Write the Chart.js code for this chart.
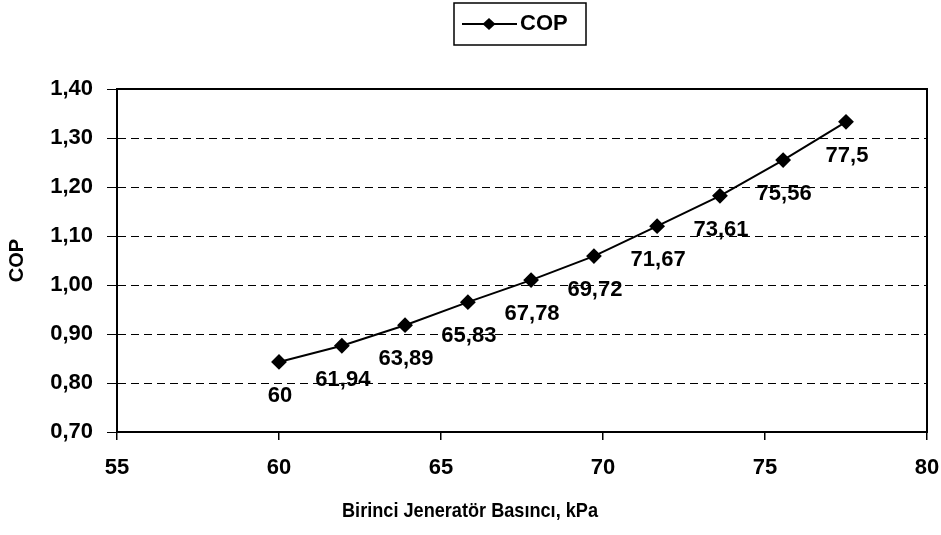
<!DOCTYPE html>
<html>
<head>
<meta charset="utf-8">
<script src="https://cdn.jsdelivr.net/npm/chart.js@4.4.1/dist/chart.umd.min.js"></script>
<style>
html,body{margin:0;padding:0;background:#fff;}
#wrap{position:relative;width:941px;height:535px;}
</style>
</head>
<body>
<div id="wrap"><canvas id="c" width="941" height="535"></canvas></div>
<script>
const pressures = [60, 61.94, 63.89, 65.83, 67.78, 69.72, 71.67, 73.61, 75.56, 77.5];
const copValues = [0.843, 0.876, 0.918, 0.965, 1.010, 1.059, 1.120, 1.182, 1.255, 1.333];
const seriesName = 'COP';
const xTitle = 'Birinci Jeneratör Basıncı, kPa';
const yTitle = 'COP';
const xMin = 55, xMax = 80, xStep = 5;
const yMin = 0.70, yMax = 1.40, yStep = 0.10;

const FONT = '"Liberation Sans", Arial, sans-serif';
const fmt = v => String(v).replace('.', ',');

const points = pressures.map((x, i) => ({x: x, y: copValues[i]}));

const framePlugin = {
  id: 'frame',
  afterDraw(chart) {
    const {ctx, chartArea: a} = chart;
    ctx.save();
    ctx.strokeStyle = '#000';
    ctx.lineWidth = 2;
    ctx.strokeRect(a.left, a.top, a.right - a.left, a.bottom - a.top);
    ctx.restore();
  }
};

const labelPlugin = {
  id: 'ptLabels',
  afterDatasetsDraw(chart) {
    const {ctx} = chart;
    const meta = chart.getDatasetMeta(0);
    ctx.save();
    ctx.font = 'bold 22px ' + FONT;
    ctx.fillStyle = '#000';
    ctx.textAlign = 'center';
    ctx.textBaseline = 'middle';
    meta.data.forEach((el, i) => {
      ctx.fillText(fmt(pressures[i]), el.x + 1, el.y + 34);
    });
    ctx.restore();
  }
};

const xTitlePlugin = {
  id: 'xTitle',
  afterDraw(chart) {
    const {ctx} = chart;
    ctx.save();
    ctx.font = 'bold 21px ' + FONT;
    ctx.fillStyle = '#000';
    ctx.textAlign = 'center';
    ctx.textBaseline = 'middle';
    const w = ctx.measureText(xTitle).width;
    const sx = Math.min(1, 256 / w);
    ctx.translate(470, 511);
    ctx.scale(sx, 1);
    ctx.fillText(xTitle, 0, 0);
    ctx.restore();
  }
};

const legendPlugin = {
  id: 'boxLegend',
  afterDraw(chart) {
    const {ctx} = chart;
    const ds = chart.data.datasets[0];
    ctx.save();
    ctx.strokeStyle = '#000';
    ctx.lineWidth = 1.5;
    ctx.strokeRect(454, 3, 132, 42);
    ctx.lineWidth = 2;
    ctx.beginPath();
    ctx.moveTo(462, 24);
    ctx.lineTo(517, 24);
    ctx.stroke();
    ctx.fillStyle = '#000';
    ctx.beginPath();
    ctx.moveTo(489, 18); ctx.lineTo(495.5, 24); ctx.lineTo(489, 30); ctx.lineTo(482.5, 24);
    ctx.closePath();
    ctx.fill();
    ctx.font = 'bold 22px ' + FONT;
    ctx.textBaseline = 'middle';
    ctx.textAlign = 'left';
    ctx.fillText(ds.label, 520, 24);
    ctx.restore();
  }
};

new Chart(document.getElementById('c'), {
  type: 'scatter',
  data: {
    datasets: [{
      label: seriesName,
      data: points,
      showLine: true,
      borderColor: '#000',
      backgroundColor: '#000',
      borderWidth: 2,
      pointStyle: 'rectRot',
      pointRadius: 6.5,
      pointHoverRadius: 6.5,
      pointBackgroundColor: '#000',
      pointBorderColor: '#000',
      tension: 0
    }]
  },
  options: {
    responsive: false,
    animation: false,
    devicePixelRatio: 1,
    layout: {padding: {left: 0, right: 0, top: 89, bottom: 0}},
    plugins: {legend: {display: false}, tooltip: {enabled: false}},
    scales: {
      x: {
        type: 'linear',
        min: xMin, max: xMax,
        afterFit(s) { s.height = 535 - 432; s.paddingLeft = 0; s.paddingRight = 14; },
        ticks: {stepSize: xStep, padding: 15, color: '#000', font: {family: FONT, size: 22, weight: 'bold'}},
        grid: {drawOnChartArea: false, drawTicks: true, tickLength: 8, color: '#000', lineWidth: 1.5},
        border: {display: true, color: '#000', width: 2},
        title: {display: false}
      },
      y: {
        type: 'linear',
        min: yMin, max: yMax,
        afterFit(s) { s.width = 117; s.paddingTop = 0; s.paddingBottom = 0; },
        ticks: {stepSize: yStep, padding: 14, color: '#000', font: {family: FONT, size: 22, weight: 'bold'},
          callback: v => v.toFixed(2).replace('.', ',')},
        grid: {drawOnChartArea: true, drawTicks: true, tickLength: 10, color: '#000', lineWidth: 1, tickBorderDash: []},
        border: {display: true, color: '#000', width: 2, dash: [8, 5]},
        title: {display: true, text: yTitle, color: '#000', font: {family: FONT, size: 20, weight: 'bold'}, padding: {top: 5, bottom: 0}}
      }
    }
  },
  plugins: [framePlugin, labelPlugin, xTitlePlugin, legendPlugin]
});
</script>
</body>
</html>
